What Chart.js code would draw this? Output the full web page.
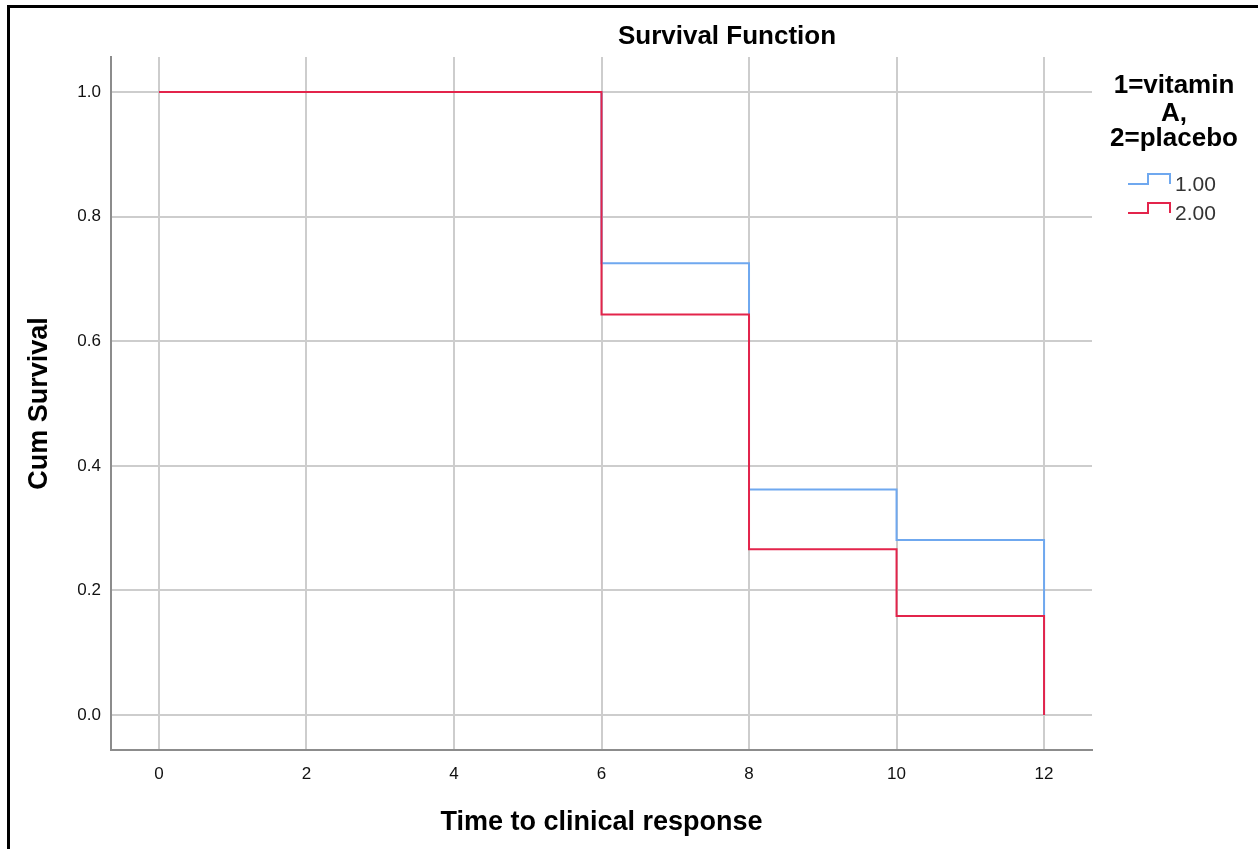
<!DOCTYPE html>
<html>
<head>
<meta charset="utf-8">
<script src="https://cdn.jsdelivr.net/npm/chart.js@4.4.0/dist/chart.umd.min.js"></script>
<style>
  html, body { margin: 0; padding: 0; background: #fff; }
  #wrap { position: relative; width: 1258px; height: 849px; }
  #frame { position: absolute; left: 7px; top: 5px; right: 0; bottom: -10px; border-left: 3px solid #000; border-top: 3px solid #000; }
  #chart { position: absolute; left: 0; top: 0; }
</style>
</head>
<body>
<div id="wrap">
  <div id="frame"></div>
  <canvas id="chart" width="1258" height="849"></canvas>
</div>
<script>
// Kaplan-Meier steps
const times = [0, 6, 8, 10, 12];
const vitaminA = [1.0, 0.725, 0.362, 0.281, 0.0];
const placebo = [1.0, 0.643, 0.266, 0.159, 0.0];

const groupLabels = ['1.00', '2.00'];
const groupColors = ['#6fa8ef', '#e3244b'];

const xTicks = [0, 2, 4, 6, 8, 10, 12];
const yTicks = [0.0, 0.2, 0.4, 0.6, 0.8, 1.0];

const chartTitle = 'Survival Function';
const xTitle = 'Time to clinical response';
const yTitle = 'Cum Survival';
const legendTitle = ['1=vitamin', 'A,', '2=placebo'];

const FONT = '"Liberation Sans", Arial, sans-serif';

function toPoints(values) {
  return times.map((t, i) => ({ x: t, y: values[i] }));
}

// titles + step legend drawn by hand, SPSS style
const labelsPlugin = {
  id: 'spssLabels',
  afterDraw(chart) {
    const ctx = chart.ctx;
    const area = chart.chartArea;
    ctx.save();
    ctx.fillStyle = '#000';
    ctx.textAlign = 'center';
    ctx.textBaseline = 'alphabetic';

    ctx.font = 'bold 26px ' + FONT;
    ctx.fillText(chartTitle, 727, 44);

    ctx.font = 'bold 27px ' + FONT;
    ctx.fillText(xTitle, (area.left + area.right) / 2, 830);

    ctx.save();
    ctx.translate(47, (area.top + area.bottom) / 2);
    ctx.rotate(-Math.PI / 2);
    ctx.fillText(yTitle, 0, 0);
    ctx.restore();

    // legend
    ctx.font = 'bold 26px ' + FONT;
    [93, 121, 146].forEach((y, i) => {
      ctx.fillText(legendTitle[i], 1174, y);
    });

    ctx.font = '21px ' + FONT;
    ctx.textAlign = 'left';
    ctx.fillStyle = '#333';
    groupLabels.forEach((lbl, i) => {
      const y = 184 + i * 29;
      ctx.strokeStyle = groupColors[i];
      ctx.lineWidth = 2;
      ctx.beginPath();
      ctx.moveTo(1128, y);
      ctx.lineTo(1148, y);
      ctx.lineTo(1148, y - 10);
      ctx.lineTo(1170, y - 10);
      ctx.lineTo(1170, y);
      ctx.stroke();
      ctx.fillText(lbl, 1175, y + 7);
    });
    ctx.restore();
  }
};

const gridColor = '#cdcdcd';
const axisColor = '#8c8c8c';

new Chart(document.getElementById('chart'), {
  type: 'line',
  data: {
    datasets: [
      {
        label: groupLabels[0],
        data: toPoints(vitaminA),
        borderColor: groupColors[0],
        borderWidth: 2,
        stepped: true,
        pointRadius: 0,
        fill: false,
        order: 2
      },
      {
        label: groupLabels[1],
        data: toPoints(placebo),
        borderColor: groupColors[1],
        borderWidth: 2,
        stepped: true,
        pointRadius: 0,
        fill: false,
        order: 1
      }
    ]
  },
  options: {
    responsive: false,
    animation: false,
    layout: { padding: { left: 0, top: 57, right: 166, bottom: 0 } },
    plugins: {
      legend: { display: false },
      title: { display: false },
      tooltip: { enabled: false }
    },
    scales: {
      x: {
        type: 'linear',
        min: -0.65,
        max: 12.65,
        afterFit(scale) { scale.height = 99; },
        afterBuildTicks(scale) { scale.ticks = xTicks.map(v => ({ value: v })); },
        grid: { color: gridColor, lineWidth: 2, drawTicks: false },
        border: { color: axisColor, width: 2 },
        ticks: {
          padding: 14,
          color: '#111',
          font: { family: FONT, size: 17 },
          callback: v => String(v)
        }
      },
      y: {
        type: 'linear',
        min: -0.056,
        max: 1.056,
        afterFit(scale) { scale.width = 111; },
        afterBuildTicks(scale) { scale.ticks = yTicks.map(v => ({ value: v })); },
        grid: { color: gridColor, lineWidth: 2, drawTicks: false },
        border: { color: axisColor, width: 2 },
        ticks: {
          padding: 10,
          color: '#111',
          font: { family: FONT, size: 17 },
          callback: v => v.toFixed(1)
        }
      }
    }
  },
  plugins: [labelsPlugin]
});
</script>
</body>
</html>
